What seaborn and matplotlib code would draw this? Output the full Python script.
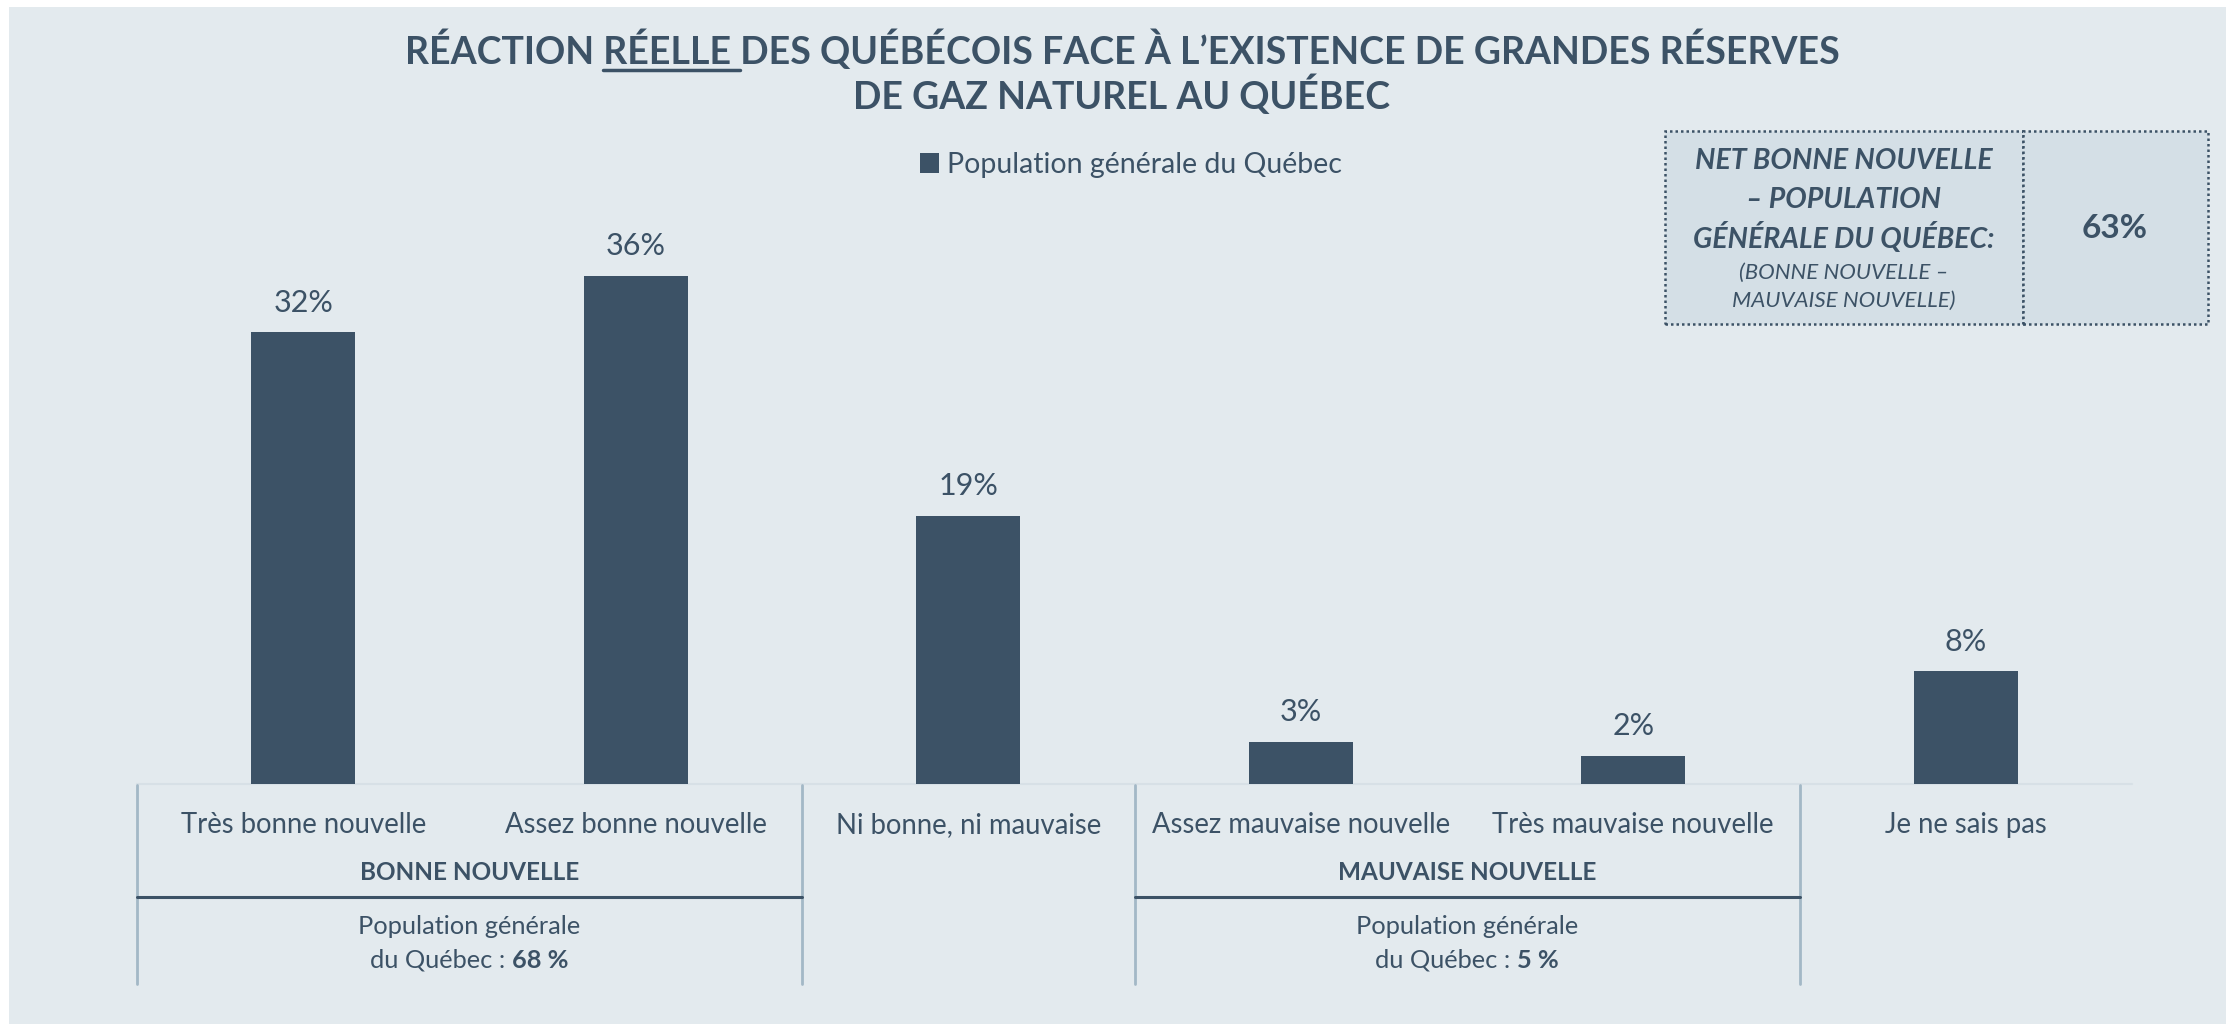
import matplotlib
matplotlib.use("Agg")
import matplotlib.pyplot as plt
import matplotlib.transforms as mtransforms
from matplotlib.patches import Rectangle
from matplotlib.lines import Line2D
import seaborn as sns
import pandas as pd

# ---------------- data ----------------
categories = ["Très bonne nouvelle", "Assez bonne nouvelle", "Ni bonne, ni mauvaise",
              "Assez mauvaise nouvelle", "Très mauvaise nouvelle", "Je ne sais pas"]
values = [32, 36, 19, 3, 2, 8]
series_name = "Population générale du Québec"
title_line1 = "RÉACTION RÉELLE DES QUÉBÉCOIS FACE À L’EXISTENCE DE GRANDES RÉSERVES"
title_line2 = "DE GAZ NATUREL AU QUÉBEC"
group_labels = ["BONNE NOUVELLE", "MAUVAISE NOUVELLE"]
group_totals = ["68 %", "5 %"]
net_lines_bold = ["NET BONNE NOUVELLE", "– POPULATION", "GÉNÉRALE DU QUÉBEC:"]
net_lines_small = ["(BONNE NOUVELLE –", "MAUVAISE NOUVELLE)"]
net_value = "63%"

# ---------------- style ----------------
W, H = 2226, 1024
BG = "#e3eaee"
DARK = "#3c5266"
BOXFILL = "#d4dfe6"
SEP = "#a3b8c6"
FONT = ["Lato", "DejaVu Sans"]
TFONT = ["Lato", "DejaVu Sans"]

sns.set_theme(style="white")
plt.rcParams["font.family"] = FONT
plt.rcParams["text.color"] = DARK

def fx(x):
    return x / W

def fy(y):
    return 1 - y / H

fig = plt.figure(figsize=(W / 100, H / 100), dpi=100)
fig.patch.set_facecolor("white")
fig.patches.append(Rectangle((fx(9), 0), 1, fy(7), transform=fig.transFigure,
                             facecolor=BG, edgecolor="none", zorder=-10))

ax = fig.add_axes([fx(137), 1 - 784 / H, (2132 - 137) / W, (784 - 219) / H])
ax.set_facecolor("none")

df = pd.DataFrame({"cat": categories, "val": values, "series": series_name})
sns.barplot(data=df, x="cat", y="val", hue="series", palette=[DARK], width=0.313,
            dodge=False, ax=ax, saturation=1, edgecolor="none")
ax.set_xlim(-0.5, 5.5)
ax.set_ylim(0, 40)
for s in ax.spines.values():
    s.set_visible(False)
ax.set_yticks([])
ax.set_xlabel("")
ax.set_ylabel("")
ax.tick_params(axis="x", length=0, pad=20, labelsize=19.8, labelcolor=DARK)

for c in ax.containers:
    ax.bar_label(c, labels=[f"{v}%" for v in values], padding=11, fontsize=22, color=DARK)

# baseline
ax.plot([-0.5, 5.5], [0, 0], color="#d7e0e6", lw=1.5, clip_on=False, zorder=0)

# legend
sns.move_legend(ax, "center", bbox_to_anchor=(fx(1131), fy(165)), bbox_transform=fig.transFigure,
                frameon=False, title=None, fontsize=20.5, handlelength=0.65, handleheight=0.65,
                handletextpad=0.3)

# group separators
blend = mtransforms.blended_transform_factory(ax.transData, fig.transFigure)
for xs in [-0.5, 1.5, 2.5, 4.5]:
    ax.add_line(Line2D([xs, xs], [fy(785), fy(984)], transform=blend, color=SEP, lw=2, clip_on=False))
for (a, b) in [(-0.5, 1.5), (2.5, 4.5)]:
    ax.add_line(Line2D([a, b], [fy(897), fy(897)], transform=blend, color=DARK, lw=2.2, clip_on=False))

for xc, lab in zip([0.5, 3.5], group_labels):
    ax.text(xc, fy(873), lab, transform=blend, ha="center", va="center", fontsize=17.5,
            fontweight="bold", color=DARK)
    ax.text(xc, fy(926), "Population générale", transform=blend, ha="center", va="center",
            fontsize=18.3, color=DARK)

fig.canvas.draw()
R = fig.canvas.get_renderer()

def text_w(s, **kw):
    t = fig.text(0, 0, s, **kw)
    w = t.get_window_extent(R).width
    t.remove()
    return w

# mixed line "du Québec : 68 %"
for xc, tot in zip([0.5, 3.5], group_totals):
    xpix = ax.transData.transform((xc, 0))[0]
    w1 = text_w("du Québec :", fontsize=18.3)
    w2 = text_w(tot, fontsize=18.3, fontweight="bold")
    gap = 7
    x0 = xpix - (w1 + gap + w2) / 2
    fig.text(fx(x0), fy(960), "du Québec :", ha="left", va="center", fontsize=18.3, color=DARK)
    fig.text(fx(x0 + w1 + gap), fy(960), tot, ha="left", va="center", fontsize=18.3,
             fontweight="bold", color=DARK)

# title
TSIZE = 27
tkw = dict(fontsize=TSIZE, fontweight="bold", family=TFONT, color=DARK)
fig.text(fx(1122), fy(50), title_line1, ha="center", va="center", **tkw)
fig.text(fx(1122), fy(95), title_line2, ha="center", va="center", **tkw)
wfull = text_w(title_line1, **tkw)
wA = text_w("RÉACTION", **tkw)
wAB = text_w("RÉACTION RÉELLE", **tkw)
wsp = text_w("A A", **tkw) - text_w("AA", **tkw)
x0 = 1122 - wfull / 2
fig.add_artist(Line2D([fx(x0 + wA + wsp), fx(x0 + wAB + wsp)], [fy(70), fy(70)],
                      transform=fig.transFigure, color=DARK, lw=2.5))

# net box
fig.patches.append(Rectangle((fx(1665), fy(324)), (2023 - 1665) / W, (324 - 131) / H,
                             transform=fig.transFigure, facecolor=BOXFILL, edgecolor=DARK,
                             lw=1.8, linestyle=(0, (1, 1.2))))
fig.patches.append(Rectangle((fx(2023), fy(324)), (2208 - 2023) / W, (324 - 131) / H,
                             transform=fig.transFigure, facecolor=BOXFILL, edgecolor=DARK,
                             lw=1.8, linestyle=(0, (1, 1.2))))
for y, s in zip([161, 200, 238], net_lines_bold):
    fig.text(fx(1844), fy(y), s, ha="center", va="center", fontsize=20.5, fontweight="bold",
             style="italic", color=DARK)
for y, s in zip([273, 301], net_lines_small):
    fig.text(fx(1844), fy(y), s, ha="center", va="center", fontsize=16, style="italic", color=DARK)
fig.text(fx(2115), fy(228), net_value, ha="center", va="center", fontsize=24, fontweight="bold",
         color=DARK)

fig.savefig("out.png", dpi=100, facecolor=fig.get_facecolor())
